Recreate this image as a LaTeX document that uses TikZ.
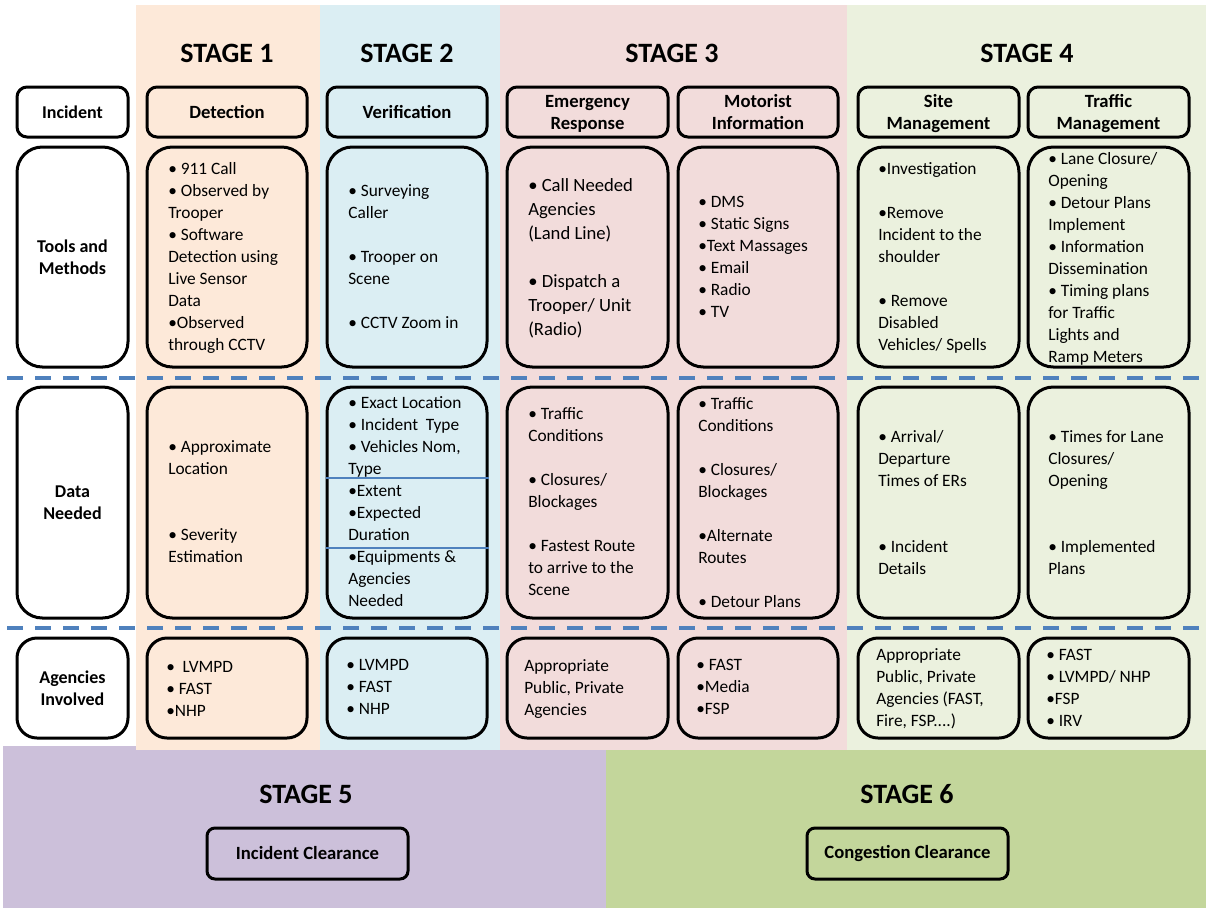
\documentclass[tikz,border=0pt]{standalone}
\usepackage{fontspec}
\setmainfont{Carlito}
\usetikzlibrary{fit}
\definecolor{stA}{HTML}{FDE9D9}
\definecolor{stB}{HTML}{DBEEF3}
\definecolor{stC}{HTML}{F2DCDB}
\definecolor{stD}{HTML}{EBF1DE}
\definecolor{stE}{HTML}{CCC0DA}
\definecolor{stF}{HTML}{C3D69B}
\definecolor{sepblue}{HTML}{4F81BD}
% a block of left-aligned lines, baseline = first line
\newcommand\Ln[1]{\hbox{#1}}
\newcommand\Blk[1]{\vtop{\lineskiplimit=-\maxdimen #1}}
\tikzset{
  box/.style={draw=black, line width=2.25pt, rounded corners=#1, inner sep=0pt},
  box/.default=19pt,
  ttl/.style={font=\fontsize{21}{24}\selectfont\bfseries, inner sep=0pt},
  hdr/.style={font=\fontsize{14}{16.5}\selectfont\bfseries, align=center, inner sep=0pt},
  hdrtwo/.style={hdr, yshift=-1.5pt},
  lbl/.style={font=\fontsize{13.5}{16.5}\selectfont\bfseries, align=center, inner sep=0pt},
  body/.style={anchor=base west, inner sep=0pt, font=\fontsize{13}{16.5}\selectfont},
  bodyL/.style={anchor=base west, inner sep=0pt, font=\fontsize{14}{18}\selectfont},
  sepline/.style={draw=sepblue, line width=2.4pt, dash pattern=on 12pt off 9pt},
  thinblue/.style={draw=sepblue, line width=1pt}
}
\begin{document}
\begin{tikzpicture}[x=0.75pt,y=-0.75pt]
\useasboundingbox (0,0) rectangle (1206,908);
% stage backgrounds
\fill[stE] (3,746) rectangle (606,908);
\fill[stF] (606,750) rectangle (1206,908);
\fill[stA] (136,5) rectangle (320,750);
\fill[stB] (320,5) rectangle (500,750);
\fill[stC] (500,5) rectangle (847,750);
\fill[stD] (847,5) rectangle (1206,750);
% separators between rows
\coordinate (sa) at (7,378);  \coordinate (sb) at (1206,378);
\coordinate (sc) at (7,628);  \coordinate (sd) at (1206,628);
\draw[sepline] (sa) -- (sb);
\draw[sepline] (sc) -- (sd);
% stage titles
\node[ttl] (s1) at (227,53) {STAGE 1};
\node[ttl] (s2) at (407,53) {STAGE 2};
\node[ttl] (s3) at (672,53) {STAGE 3};
\node[ttl] (s4) at (1027,53) {STAGE 4};
\node[ttl] (s5) at (306,794) {STAGE 5};
\node[ttl] (s6) at (907,794) {STAGE 6};
% row label boxes
\node[box=7.5pt, fit={(17,87) (128,137)}] (lInc) {};
\node[box, fit={(17,147) (128,367)}] (lTool) {};
\node[box, fit={(17,387) (128,618)}] (lData) {};
\node[box=15pt, fit={(17,638) (128,738)}] (lAg) {};
\node[lbl] (lIncT) at (lInc) {Incident};
\node[lbl] (lToolT) at (lTool) {Tools and\\Methods};
\node[lbl] (lDataT) at (lData) {Data\\Needed};
\node[lbl] (lAgT) at (lAg) {Agencies\\Involved};
% header boxes
\node[box=7.5pt, fit={(147,87) (307,137)}] (h1) {};
\node[box=7.5pt, fit={(327,87) (487,137)}] (h2) {};
\node[box=7.5pt, fit={(507,87) (668,137)}] (h3) {};
\node[box=7.5pt, fit={(678,87) (838,137)}] (h4) {};
\node[box=7.5pt, fit={(858,87) (1019,137)}] (h5) {};
\node[box=7.5pt, fit={(1028,87) (1189,137)}] (h6) {};
\node[hdr] (h1T) at (h1) {Detection};
\node[hdr] (h2T) at (h2) {Verification};
\node[hdrtwo] (h3T) at (h3) {Emergency\\Response};
\node[hdr] (h4T) at (h4) {Motorist\\Information};
\node[hdrtwo] (h5T) at (h5) {Site\\Management};
\node[hdrtwo] (h6T) at (h6) {Traffic\\Management};
% tools and methods boxes
\node[box, fit={(147,147) (307,367)}] (t1) {};
\node[box, fit={(327,147) (487,367)}] (t2) {};
\node[box, fit={(507,147) (668,367)}] (t3) {};
\node[box, fit={(678,147) (838,367)}] (t4) {};
\node[box, fit={(858,147) (1019,367)}] (t5) {};
\node[box, fit={(1028,147) (1189,367)}] (t6) {};
% data needed boxes
\node[box, fit={(147,387) (307,618)}] (d1) {};
\node[box, fit={(327,387) (487,618)}] (d2) {};
\node[box, fit={(507,387) (668,618)}] (d3) {};
\node[box, fit={(678,387) (838,618)}] (d4) {};
\node[box, fit={(858,387) (1019,618)}] (d5) {};
\node[box, fit={(1028,387) (1189,618)}] (d6) {};
% agencies boxes
\node[box=15pt, fit={(147,638) (307,738)}] (a1) {};
\node[box=15pt, fit={(327,638) (487,738)}] (a2) {};
\node[box=15pt, fit={(507,638) (668,738)}] (a3) {};
\node[box=15pt, fit={(678,638) (838,738)}] (a4) {};
\node[box=15pt, fit={(858,638) (1019,738)}] (a5) {};
\node[box=15pt, fit={(1028,638) (1189,738)}] (a6) {};
% bottom stage boxes
\node[box=6pt, fit={(207,828) (408,879)}] (c5) {};
\node[box=6pt, fit={(807,828) (1008,879)}] (c6) {};
\node[hdr] (c5T) at (c5) {Incident Clearance};
\node[hdr] (c6T) at (c6) {Congestion Clearance};
% blue dividers in the verification data box
\draw[thinblue] (d2.west |- 0,478) -- (d2.east |- 0,478);
\draw[thinblue] (d2.west |- 0,548) -- (d2.east |- 0,548);
% tools and methods texts
\node[body] (tt1) at (168,174) {\Blk{\Ln{• 911 Call}\Ln{• Observed by}\Ln{Trooper}\Ln{• Software}\Ln{Detection using}\Ln{Live Sensor}\Ln{Data}\Ln{•Observed}\Ln{through CCTV}}};
\node[body] (tt2) at (348,196) {\Blk{\Ln{• Surveying}\Ln{Caller}\Ln{}\Ln{• Trooper on}\Ln{Scene}\Ln{}\Ln{• CCTV Zoom in}}};
\node[bodyL] (tt3) at (528,191.5) {\Blk{\Ln{• Call Needed}\Ln{Agencies}\Ln{(Land Line)}\Ln{}\Ln{• Dispatch a}\Ln{Trooper/ Unit}\Ln{(Radio)}}};
\node[body] (tt4) at (698,207) {\Blk{\Ln{• DMS}\Ln{• Static Signs}\Ln{•Text Massages}\Ln{• Email}\Ln{• Radio}\Ln{• TV}}};
\node[body] (tt5) at (878,174) {\Blk{\Ln{•Investigation}\Ln{}\Ln{•Remove}\Ln{Incident to the}\Ln{shoulder}\Ln{}\Ln{• Remove}\Ln{Disabled}\Ln{Vehicles/ Spells}}};
\node[body] (tt6) at (1048,164) {\Blk{\Ln{• Lane Closure/}\Ln{Opening}\Ln{• Detour Plans}\Ln{Implement}\Ln{• Information}\Ln{Dissemination}\Ln{• Timing plans}\Ln{for Traffic}\Ln{Lights and}\Ln{Ramp Meters}}};
% data needed texts
\node[body] (dt1) at (168,452) {\Blk{\Ln{• Approximate}\Ln{Location}\Ln{}\Ln{}\Ln{• Severity}\Ln{Estimation}}};
\node[body] (dt2) at (348,408) {\Blk{\Ln{• Exact Location}\Ln{• Incident\ \ Type}\Ln{• Vehicles Nom,}\Ln{Type}\Ln{•Extent}\Ln{•Expected}\Ln{Duration}\Ln{•Equipments \&}\Ln{Agencies}\Ln{Needed}}};
\node[body] (dt3) at (528,419) {\Blk{\Ln{• Traffic}\Ln{Conditions}\Ln{}\Ln{• Closures/}\Ln{Blockages}\Ln{}\Ln{• Fastest Route}\Ln{to arrive to the}\Ln{Scene}}};
\node[body] (dt4) at (698,409) {\Blk{\Ln{• Traffic}\Ln{Conditions}\Ln{}\Ln{• Closures/}\Ln{Blockages}\Ln{}\Ln{•Alternate}\Ln{Routes}\Ln{}\Ln{• Detour Plans}}};
\node[body] (dt5) at (878,442) {\Blk{\Ln{• Arrival/}\Ln{Departure}\Ln{Times of ERs}\Ln{}\Ln{}\Ln{• Incident}\Ln{Details}}};
\node[body] (dt6) at (1048,442) {\Blk{\Ln{• Times for Lane}\Ln{Closures/}\Ln{Opening}\Ln{}\Ln{}\Ln{• Implemented}\Ln{Plans}}};
% agencies texts
\node[body] (at1) at (166,672) {\Blk{\Ln{•\ \ LVMPD}\Ln{• FAST}\Ln{•NHP}}};
\node[body] (at2) at (346,670) {\Blk{\Ln{• LVMPD}\Ln{• FAST}\Ln{• NHP}}};
\node[body] (at3) at (524,671) {\Blk{\Ln{Appropriate}\Ln{Public, Private}\Ln{Agencies}}};
\node[body] (at4) at (696,670) {\Blk{\Ln{• FAST}\Ln{•Media}\Ln{•FSP}}};
\node[body] (at5) at (876,660) {\Blk{\Ln{Appropriate}\Ln{Public, Private}\Ln{Agencies (FAST,}\Ln{Fire, FSP....)}}};
\node[body] (at6) at (1046,660) {\Blk{\Ln{• FAST}\Ln{• LVMPD/ NHP}\Ln{•FSP}\Ln{• IRV}}};
\end{tikzpicture}
\end{document}
